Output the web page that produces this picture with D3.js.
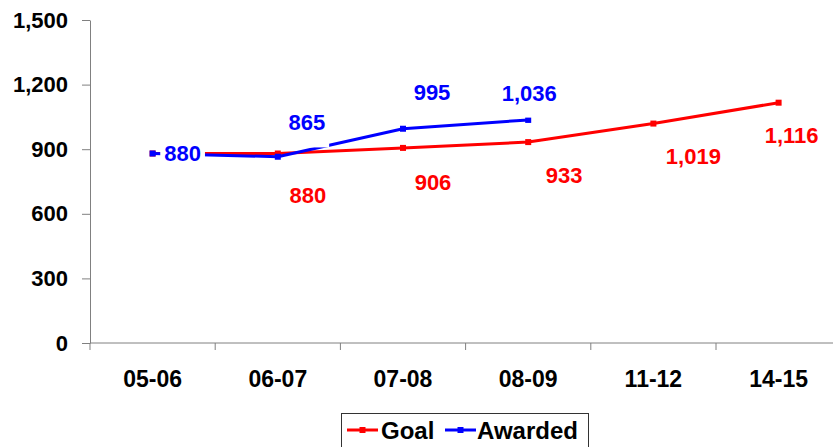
<!DOCTYPE html>
<html><head><meta charset="utf-8">
<script src="https://cdn.jsdelivr.net/npm/d3@7"></script>
<style>
body{margin:0;background:#fff}
svg{display:block}
text{font-family:"Liberation Sans",Arial,sans-serif;font-weight:bold}
</style>
</head><body><svg id="c" width="833" height="447"></svg>
<script>
// ---- data ----
const categories = ["05-06","06-07","07-08","08-09","11-12","14-15"];
const goalValues = [880, 880, 906, 933, 1019, 1116];
const awardedValues = [880, 865, 995, 1036];
const yTicks = [0, 300, 600, 900, 1200, 1500];
const seriesNames = ["Goal", "Awarded"];
const seriesColors = ["#ff0000", "#0000ff"];
// which goal points carry a data label
const goalLabelShown = [false, true, true, true, true, true];
// manual label offsets (px) relative to each point
const goalLabelOffsets = [[0,0],[30,42],[30,34],[36,33],[40,33],[13,33]];
const awardedLabelOffsets = [[30,0],[29,-34],[29,-36],[1,-27]];

(function(){
// ---- layout ----
const svg = d3.select("#c");
const plotLeft = 90, plotTop = 20, plotBottom = 343, band = 125.2;
const x = d3.scaleBand().domain(categories).range([plotLeft, plotLeft + band*categories.length]).padding(0);
const cx = c => x(c) + x.bandwidth()/2;
const y = d3.scaleLinear().domain([0, 1500]).range([plotBottom, plotTop]);
const fmt = d3.format(",");
const axisColor = "#808080";

// y axis
const ya = svg.append("g").attr("transform", `translate(${plotLeft},0)`)
  .call(d3.axisLeft(y).tickValues(yTicks).tickFormat(fmt).tickSize(8).tickSizeOuter(0).tickPadding(14));
ya.select(".domain").attr("stroke", axisColor);
ya.selectAll(".tick line").attr("stroke", axisColor);
ya.selectAll(".tick text").attr("fill", "#000").style("font-size", "22px").style("font-family", '"Liberation Sans",Arial,sans-serif').style("font-weight","bold");

// x axis
const xa = svg.append("g").attr("transform", `translate(0,${plotBottom})`);
xa.append("line").attr("x1", plotLeft).attr("x2", 833).attr("y1", 0).attr("y2", 0).attr("stroke", axisColor);
const boundaries = categories.map(c => x(c)).concat([x(categories[categories.length-1]) + x.bandwidth()]);
xa.selectAll("line.tk").data(boundaries).enter().append("line").attr("class","tk")
  .attr("x1", d => d).attr("x2", d => d).attr("y1", 0).attr("y2", 7).attr("stroke", axisColor);
xa.selectAll("text.lb").data(categories).enter().append("text").attr("class","lb")
  .attr("x", d => cx(d)).attr("y", 36).attr("dy","0.35em").attr("text-anchor","middle")
  .style("font-size","23px").attr("fill","#000").text(d => d);

// series
const line = d3.line().x(d => cx(d.c)).y(d => y(d.v));
const goalData = goalValues.map((v,i) => ({c: categories[i], v, i}));
const awardedData = awardedValues.map((v,i) => ({c: categories[i], v, i}));

function drawSeries(data, color) {
  svg.append("path").datum(data).attr("d", line).attr("fill","none")
    .attr("stroke", color).attr("stroke-width", 3).attr("stroke-linejoin","round");
  svg.append("g").selectAll("rect").data(data).enter().append("rect")
    .attr("x", d => cx(d.c) - 3).attr("y", d => y(d.v) - 3)
    .attr("width", 6).attr("height", 6).attr("fill", color);
}
drawSeries(goalData, seriesColors[0]);
drawSeries(awardedData, seriesColors[1]);

// data labels with white background
function drawLabels(data, offsets, color, shown) {
  data.forEach((d, i) => {
    if (shown && !shown[i]) return;
    const g = svg.append("g");
    const t = g.append("text")
      .attr("x", cx(d.c) + offsets[i][0]).attr("y", y(d.v) + offsets[i][1])
      .attr("dy", "0.35em").attr("text-anchor", "middle")
      .style("font-size", "22px").attr("fill", color).text(fmt(d.v));
    const bb = t.node().getBBox();
    g.insert("rect", "text").attr("x", bb.x - 4).attr("y", bb.y + 2)
      .attr("width", bb.width + 8).attr("height", bb.height + 10).attr("fill", "#fff");
  });
}
drawLabels(goalData, goalLabelOffsets, seriesColors[0], goalLabelShown);
drawLabels(awardedData, awardedLabelOffsets, seriesColors[1], null);

// legend
const lg = svg.append("g");
lg.append("rect").attr("x", 341.5).attr("y", 413.5).attr("width", 247).attr("height", 40)
  .attr("fill", "#fff").attr("stroke", "#333").attr("stroke-width", 1);
const legendItems = [{x: 347, tx: 381}, {x: 445, tx: 477}];
seriesNames.forEach((n, i) => {
  const it = legendItems[i];
  lg.append("line").attr("x1", it.x).attr("x2", it.x + 31).attr("y1", 430).attr("y2", 430)
    .attr("stroke", seriesColors[i]).attr("stroke-width", 3);
  lg.append("rect").attr("x", it.x + 15.5 - 3).attr("y", 427).attr("width", 6).attr("height", 6).attr("fill", seriesColors[i]);
  lg.append("text").attr("x", it.tx).attr("y", 431).attr("dy", "0.35em")
    .style("font-size", "24px").attr("fill", "#000").text(n);
});
})();
</script>
</body></html>
